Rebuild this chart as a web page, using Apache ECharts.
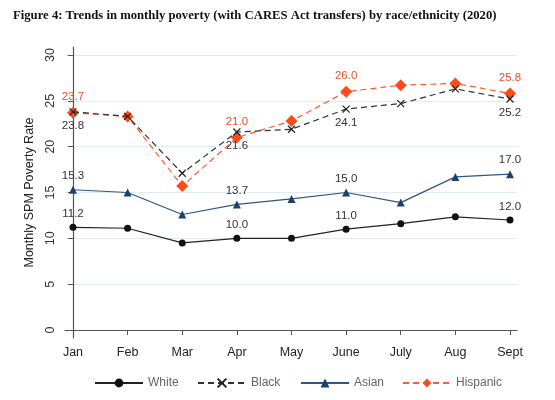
<!DOCTYPE html>
<html><head><meta charset="utf-8">
<script src="https://cdn.jsdelivr.net/npm/echarts@6/dist/echarts.min.js"></script>
<style>html,body{margin:0;padding:0;background:#fff}#c{width:555px;height:400px}</style>
</head><body><div id="c"></div>
<script>
const months = ['Jan','Feb','Mar','Apr','May','June','July','Aug','Sept'];
const white = [11.2, 11.1, 9.5, 10.0, 10.0, 11.0, 11.6, 12.35, 12.0];
const black = [23.8, 23.3, 17.1, 21.6, 21.9, 24.1, 24.7, 26.3, 25.2];
const asian = [15.3, 15.0, 12.6, 13.7, 14.3, 15.0, 13.9, 16.7, 17.0];
const hispanic = [23.7, 23.3, 15.7, 21.0, 22.8, 26.0, 26.7, 26.9, 25.8];
const labelIdx = [0, 3, 5, 8];
const yTicks = [0, 5, 10, 15, 20, 25, 30];

function pts(arr, labelPos, labelColor) {
  return arr.map((v, i) => ({
    value: [i, v],
    label: labelIdx.includes(i) ? {show: true, position: labelPos, color: labelColor, fontSize: 11.5, distance: 4,
      formatter: () => v.toFixed(1)} : {show: false}
  }));
}
const chart = echarts.init(document.getElementById('c'));
const legendCommon = {itemWidth: 48, itemHeight: 11, itemGap: 8, top: 372, textStyle: {color: '#666', fontSize: 12, fontFamily: 'Liberation Sans'}};
chart.setOption({
  animation: false,
  title: {text: 'Figure 4: Trends in monthly poverty (with CARES Act transfers) by race/ethnicity (2020)', left: 8, top: 4,
    textStyle: {fontFamily: 'Liberation Serif', fontWeight: 'bold', fontSize: 12.7, color: '#111'}},
  grid: {left: 65, right: 38, top: 47, bottom: 62},
  xAxis: {type: 'value', min: -0.146, max: 8.128,
    axisLine: {lineStyle: {color: '#555', width: 1.2}},
    axisTick: {customValues: [0,1,2,3,4,5,6,7,8], length: 5, lineStyle: {color: '#555'}},
    axisLabel: {customValues: [0,1,2,3,4,5,6,7,8], formatter: v => months[Math.round(v)], color: '#222', fontSize: 12.5, fontFamily: 'Liberation Sans', margin: 8},
    splitLine: {show: false}},
  yAxis: {type: 'value', min: -0.87, max: 30.87,
    name: 'Monthly SPM Poverty Rate', nameLocation: 'middle', nameRotate: 90, nameGap: 26,
    nameTextStyle: {color: '#222', fontSize: 12.5, fontFamily: 'Liberation Sans'},
    axisLine: {show: true, lineStyle: {color: '#555', width: 1.2}},
    axisTick: {show: true, customValues: yTicks, length: 5, lineStyle: {color: '#555'}},
    axisLabel: {customValues: yTicks, rotate: 90, color: '#333', fontSize: 12.5, fontFamily: 'Liberation Sans', margin: 8},
    splitLine: {show: true, lineStyle: {color: '#e2ecf0', width: 1}}},
  legend: [
    Object.assign({left: 89, data: ['White']}, legendCommon),
    Object.assign({left: 192, data: ['Black']}, legendCommon),
    Object.assign({left: 295, data: ['Asian']}, legendCommon),
    Object.assign({left: 397, data: ['Hispanic']}, legendCommon)
  ],
  series: [
    {name: 'White', type: 'line', data: pts(white, 'top', '#333'), symbol: 'circle', symbolSize: 7,
      lineStyle: {color: '#222', width: 1.2}, itemStyle: {color: '#111'}, z: 3},
    {name: 'Black', type: 'line', data: pts(black, 'bottom', '#333'), symbol: 'path://M0,0L10,10M10,0L0,10', symbolSize: 7,
      lineStyle: {color: '#333', width: 1.2, type: [6, 4]}, itemStyle: {color: 'rgba(0,0,0,0)', borderColor: '#222', borderWidth: 1.2}, z: 4},
    {name: 'Asian', type: 'line', data: pts(asian, 'top', '#333'), symbol: 'triangle', symbolSize: 8,
      lineStyle: {color: '#2d5784', width: 1.2}, itemStyle: {color: '#1d3f6e'}, z: 3},
    {name: 'Hispanic', type: 'line', data: pts(hispanic, 'top', '#f0502a'), symbol: 'diamond', symbolSize: 12,
      lineStyle: {color: '#ff5a30', width: 1.2, type: [6, 4]}, itemStyle: {color: '#ff4a1a'}, z: 2}
  ]
});
</script></body></html>
